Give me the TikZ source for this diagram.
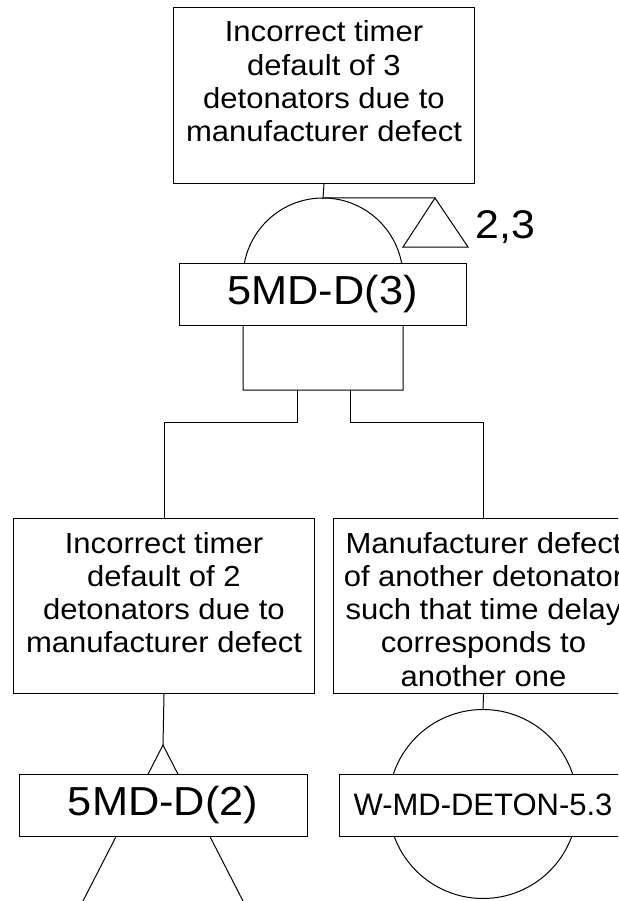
\documentclass[tikz,border=0pt]{standalone}
\usepackage{fontspec}
\setmainfont{Liberation Sans}
\newfontfamily\widesans{Liberation Sans}[FakeStretch=1.07]
\newcommand{\evtext}[3]{\parbox[c][#2][t]{#1}{\centering\widesans\fontsize{29}{33.3}\selectfont\rule{0pt}{34.5pt}#3}}
\begin{document}
\begin{tikzpicture}[x=1pt,y=-1pt,line width=1pt,
  evbox/.style={draw,fill=white,inner sep=0pt,anchor=north west},
  idbox/.style={draw,fill=white,inner sep=0pt,minimum height=62pt},
  shape line/.style={draw,line width=1pt}]
\useasboundingbox (0,0) rectangle (618,901);
\clip (0,0) rectangle (618,901);

% top event
\node[evbox] (top) at (173,7) {\evtext{301pt}{176pt}{Incorrect timer\\default of 3\\detonators due to\\manufacturer defect}};

% AND gate
\coordinate (gtop) at (323,198);
\coordinate (gi1) at (297,390);
\coordinate (gi2) at (350,390);
\coordinate (j1) at (297,422);
\coordinate (j2) at (350,422);
\draw[shape line] (243,390) -- (243,278) arc[start angle=180,end angle=0,radius=80pt] -- (403,390) -- cycle;

% transfer triangle 2,3
\coordinate (ta) at (435,198);
\coordinate (tb1) at (468,247);
\coordinate (tb2) at (403,247);
\draw[shape line] (ta) -- (tb1) -- (tb2) -- cycle;
\node[anchor=base west,inner sep=0pt,font=\widesans\fontsize{40}{40}\selectfont] (lab23) at (475,238) {2,3};

\draw (top.south) -- (gtop) -- (ta);

\node[idbox,minimum width=287pt,font=\widesans\fontsize{40.5}{40.5}\selectfont] (g3) at (322.5,294) {5MD-D(3)};

% children
\node[evbox] (left) at (13,518) {\evtext{301pt}{175pt}{Incorrect timer\\default of 2\\detonators due to\\manufacturer defect}};
\node[evbox] (right) at (333,518) {\evtext{300pt}{175pt}{Manufacturer defect\\of another detonator\\such that time delay\\corresponds to\\another one}};

\draw (gi1) -- (j1) -| (left.north);
\draw (gi2) -- (j2) -| (right.north);

% transfer-in triangle below left
\coordinate (la) at (163,745);
\coordinate (lb1) at (63,940);
\coordinate (lb2) at (263,940);
\draw (left.south) -- (la);
\draw[shape line] (lb1) -- (la) -- (lb2);
\node[idbox,minimum width=288pt,font=\widesans\fontsize{40.5}{40.5}\selectfont] (g2) at (163,805) {5MD-D(2)};

% basic event circle
\coordinate (ctop) at (483,709.5);
\draw (right.south) -- (ctop);
\draw[shape line] (483,804) circle[radius=94.5pt];
\node[idbox,minimum width=288pt,font=\fontsize{31}{31}\selectfont] (be) at (483,805) {W-MD-DETON-5.3};
\end{tikzpicture}
\end{document}
